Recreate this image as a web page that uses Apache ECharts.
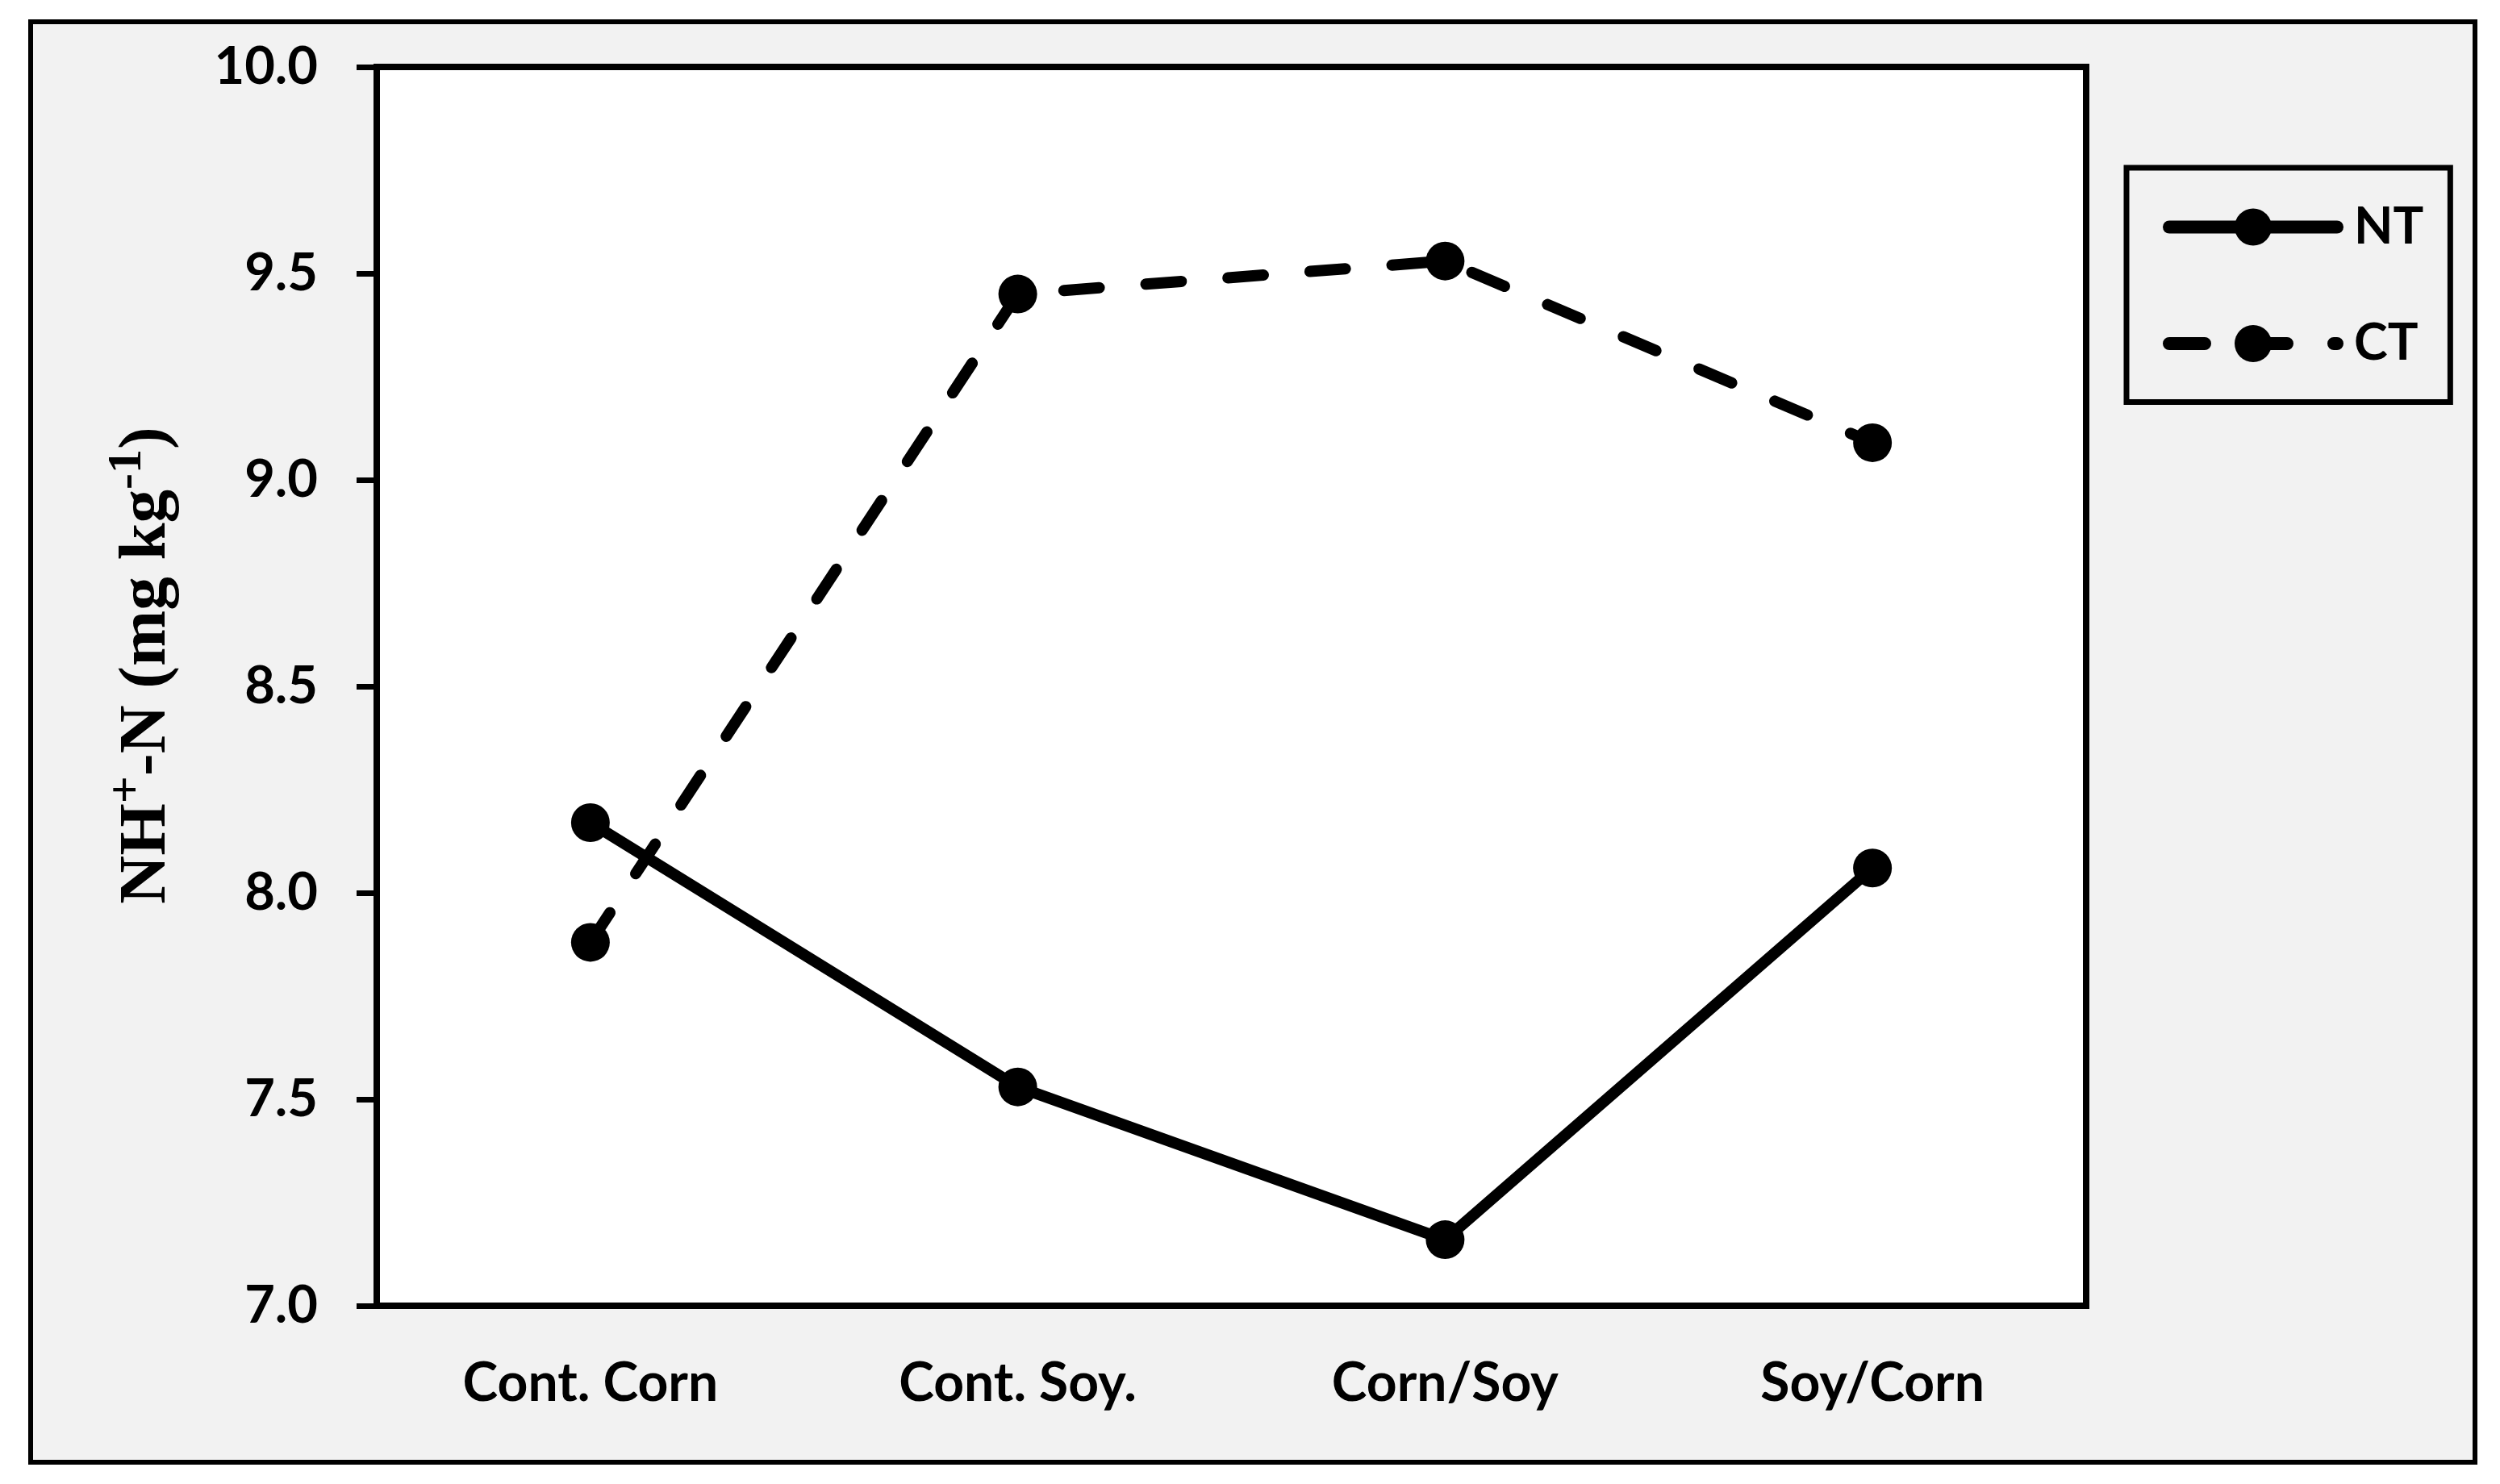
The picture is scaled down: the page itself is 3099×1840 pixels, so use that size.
<!DOCTYPE html>
<html><head><meta charset="utf-8">
<script src="https://cdn.jsdelivr.net/npm/echarts@6/dist/echarts.min.js"></script>
<style>html,body{margin:0;padding:0;background:#fff}#c{width:3099px;height:1840px}</style>
</head><body><div id="c"></div>
<script>
// ---- data ----
const categories = ['Cont. Corn', 'Cont. Soy.', 'Corn/Soy', 'Soy/Corn'];
const ntValues = [8.17, 7.53, 7.16, 8.06];
const ctValues = [7.88, 9.45, 9.53, 9.09];
const seriesNames = ['NT', 'CT'];
const yMin = 7.0, yMax = 10.0, yInterval = 0.5;

const chart = echarts.init(document.getElementById('c'), null, {renderer: 'canvas'});
const labelFont = 'Lato';
const lineW = 14;
const option = {
  backgroundColor: '#ffffff',
  animation: false,
  graphic: [
    {type: 'rect', z: -10, shape: {x: 38, y: 27, width: 3030, height: 1786},
     style: {fill: '#f2f2f2', stroke: '#000', lineWidth: 6}},
    {type: 'text', z: 10, x: 176, y: 825, rotation: Math.PI / 2,
     style: {
       text: '{b|NH}{s|+}{b|-N (mg kg}{s|-1}{b|)}',
       textAlign: 'center', textVerticalAlign: 'middle',
       rich: {
         b: {fontFamily: 'Liberation Serif', fontWeight: 'bold', fontSize: 83, fill: '#000', lineHeight: 96, verticalAlign: 'bottom'},
         s: {fontFamily: 'Liberation Serif', fontWeight: 'bold', fontSize: 60, fill: '#000', lineHeight: 96, verticalAlign: 'top'}
       }
     }}
  ],
  grid: {left: 467, top: 83, right: 513, bottom: 221, show: true, backgroundColor: '#fff',
         borderColor: '#000', borderWidth: 8, z: 1},
  legend: {
    orient: 'vertical', left: 2636, top: 208,
    padding: [42, 33, 41, 45],
    itemWidth: 208, itemHeight: 57.5, itemGap: 81.5,
    backgroundColor: '#f2f2f2', borderColor: '#000', borderWidth: 7,
    textStyle: {fontFamily: labelFont, fontWeight: 'bold', fontSize: 63, color: '#000', padding: [0, 0, 0, 16]},
    lineStyle: {width: 16, cap: 'round'},
    data: seriesNames
  },
  xAxis: {
    type: 'category', data: categories, boundaryGap: true,
    axisLine: {show: true, lineStyle: {color: '#000', width: 8}},
    axisTick: {show: false},
    splitLine: {show: false},
    axisLabel: {color: '#000', fontFamily: labelFont, fontWeight: 'bold', fontSize: 66, margin: 64}
  },
  yAxis: {
    type: 'value', min: yMin, max: yMax, interval: yInterval,
    axisLine: {show: true, lineStyle: {color: '#000', width: 8}},
    axisTick: {show: true, inside: false, length: 25, lineStyle: {color: '#000', width: 7}},
    splitLine: {show: false},
    axisLabel: {color: '#000', fontFamily: labelFont, fontWeight: 'bold', fontSize: 65, margin: 73,
                formatter: v => v.toFixed(1)}
  },
  series: [
    {name: seriesNames[0], type: 'line', data: ntValues, symbol: 'circle', symbolSize: 48,
     itemStyle: {color: '#000'}, z: 3,
     lineStyle: {color: '#000', width: lineW, type: 'solid', cap: 'round', join: 'round'}},
    {name: seriesNames[1], type: 'line', data: ctValues, symbol: 'circle', symbolSize: 48,
     itemStyle: {color: '#000'}, z: 4,
     lineStyle: {color: '#000', width: lineW, type: [44, 58], cap: 'round', join: 'round'}}
  ]
};
chart.setOption(option);
</script>
</body></html>
